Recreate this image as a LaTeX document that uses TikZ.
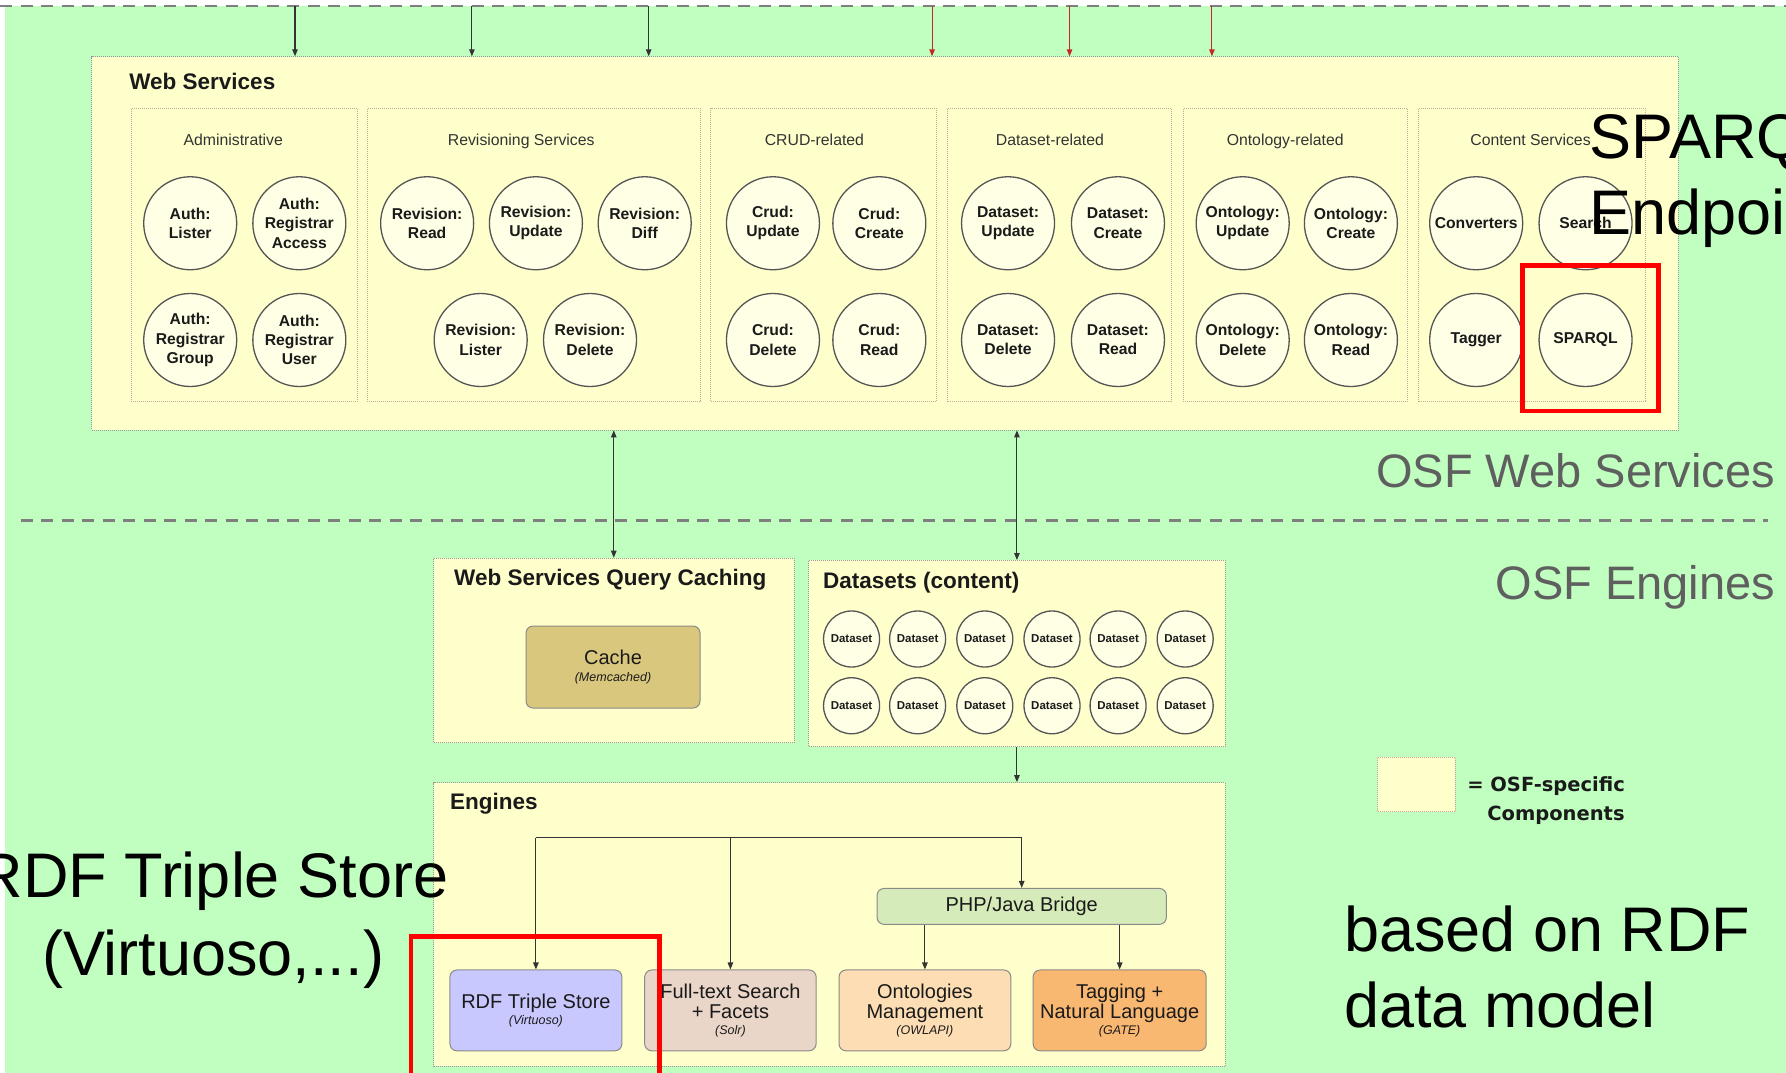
\documentclass[tikz,border=0pt]{standalone}
\usepackage{fontspec}
\setmainfont{Liberation Sans}
\newfontfamily\legendfont{DejaVu Sans}
\usetikzlibrary{arrows.meta,fit}

\definecolor{bggreen}{HTML}{C0FFC0}
\definecolor{osfyellow}{HTML}{FFFFCC}
\definecolor{circfill}{HTML}{FFFFE6}
\definecolor{circline}{HTML}{555555}
\definecolor{boxline}{HTML}{9A9A9A}
\definecolor{grpline}{HTML}{C8A898}
\definecolor{engline}{HTML}{8A8A8A}
\definecolor{txtdark}{HTML}{1A1A1A}
\definecolor{txtgrey}{HTML}{333333}
\definecolor{linedark}{HTML}{333333}
\definecolor{arrowred}{HTML}{C62828}
\definecolor{sepgrey}{HTML}{7F7F7F}
\definecolor{layergrey}{HTML}{5F5F5F}
\definecolor{cachefill}{HTML}{D9C77E}
\definecolor{bridgefill}{HTML}{D6EBBA}
\definecolor{rdffill}{HTML}{C8C8FF}
\definecolor{solrfill}{HTML}{EAD6C8}
\definecolor{owlfill}{HTML}{FDDDB3}
\definecolor{gatefill}{HTML}{F9B872}

\newcommand\subfont{\fontsize{12.5}{14}\selectfont\itshape}

\begin{document}
\begin{tikzpicture}[x=1.139pt,y=-1.139pt,
  osfbox/.style={fill=osfyellow, draw=boxline, dash pattern=on 1pt off 1pt, line width=0.8pt, inner sep=0pt},
  grpbox/.style={fill=osfyellow, draw=grpline, dash pattern=on 1pt off 1pt, line width=0.8pt, inner sep=0pt},
  svc/.style={circle, draw=circline, fill=circfill, line width=1.3pt, minimum size=93pt, inner sep=0pt,
    align=center, text=txtdark, font=\bfseries\fontsize{15.7}{19.3}\selectfont},
  dset/.style={svc, minimum size=56pt, font=\bfseries\fontsize{11.5}{13}\selectfont},
  grptitle/.style={anchor=base, inner sep=0pt, text=txtgrey, font=\fontsize{15.8}{18}\selectfont},
  boxtitle/.style={anchor=base west, inner sep=0pt, text=txtdark, font=\bfseries\fontsize{22.5}{26}\selectfont},
  engine/.style={draw=engline, rounded corners=7pt, line width=1pt, inner sep=0pt, align=center,
    text=txtdark, font=\fontsize{20}{20}\selectfont, minimum height=80.8pt},
  wire/.style={draw=linedark, line width=1.1pt},
  conn/.style={wire, -{Triangle[length=7pt,width=5.5pt]}},
  biconn/.style={wire, {Triangle[length=7pt,width=5.5pt]}-{Triangle[length=7pt,width=5.5pt]}},
  redconn/.style={conn, draw=arrowred, -{Triangle[length=7pt,width=5.5pt]}},
  sepline/.style={draw=sepgrey, line width=2.5pt, dash pattern=on 12pt off 8.5pt},
  layer/.style={anchor=base east, inner sep=0pt, text=layergrey, font=\fontsize{47}{50}\selectfont},
  note/.style={inner sep=0pt, text=black, font=\fontsize{63}{77}\selectfont},
  legendtext/.style={anchor=base west, inner sep=0pt, text=txtdark, font=\legendfont\bfseries\fontsize{19.5}{22}\selectfont},
  hilite/.style={draw=red, line width=4.5pt, inner sep=0pt}]

\useasboundingbox (0,0) rectangle (1568,942);
\fill[white] (0,0) rectangle (1568,942);
\fill[bggreen] (4,5.3) rectangle (1568,942);

% layer separators
\draw[sepline] (0,5.3) -- (1568,5.3);
\draw[sepline] (18,457) -- (1552,457);

% ---------------- Web Services layer ----------------
\node[osfbox, fit={(80.6,49.8) (1473.5,377.5)}] (ws) {};
\node[boxtitle] (wstitle) at (113.4,78.4) {Web Services};

\node[grpbox, fit={(115,95) (313.5,352.6)}] (gadmin) {};
\node[grpbox, fit={(322.6,95) (614.9,352.6)}] (grev) {};
\node[grpbox, fit={(624,95) (822,352.6)}] (gcrud) {};
\node[grpbox, fit={(832,95) (1028.7,352.6)}] (gdata) {};
\node[grpbox, fit={(1039,95) (1235.7,352.6)}] (gonto) {};
\node[grpbox, fit={(1245.4,95) (1444.7,352.6)}] (gcont) {};

\node[grptitle] (tadmin) at (204.8,127.3) {Administrative};
\node[grptitle] (trev) at (457.6,127.3) {Revisioning Services};
\node[grptitle] (tcrud) at (715,127.3) {CRUD-related};
\node[grptitle] (tdata) at (921.7,127.3) {Dataset-related};
\node[grptitle] (tonto) at (1128.3,127.3) {Ontology-related};
\node[grptitle] (tcont) at (1343.7,127.3) {Content Services};

% service endpoints
\node[svc] (alister) at (167,196) {Auth:\\Lister};
\node[svc] (aaccess) at (262.8,196) {Auth:\\Registrar\\Access};
\node[svc] (agroup) at (167,298.5) {Auth:\\Registrar\\Group};
\node[svc] (auser) at (262.8,298.5) {Auth:\\Registrar\\User};

\node[svc] (rread) at (375,196) {Revision:\\Read};
\node[svc] (rupdate) at (470.5,196) {Revision:\\Update};
\node[svc] (rdiff) at (566,196) {Revision:\\Diff};
\node[svc] (rlister) at (422,298.5) {Revision:\\Lister};
\node[svc] (rdelete) at (518,298.5) {Revision:\\Delete};

\node[svc] (cupdate) at (678.6,196) {Crud:\\Update};
\node[svc] (ccreate) at (772,196) {Crud:\\Create};
\node[svc] (cdelete) at (678.6,298.5) {Crud:\\Delete};
\node[svc] (cread) at (772,298.5) {Crud:\\Read};

\node[svc] (dupdate) at (885,196) {Dataset:\\Update};
\node[svc] (dcreate) at (981.5,196) {Dataset:\\Create};
\node[svc] (ddelete) at (885,298.5) {Dataset:\\Delete};
\node[svc] (dread) at (981.5,298.5) {Dataset:\\Read};

\node[svc] (oupdate) at (1091,196) {Ontology:\\Update};
\node[svc] (ocreate) at (1186,196) {Ontology:\\Create};
\node[svc] (odelete) at (1091,298.5) {Ontology:\\Delete};
\node[svc] (oread) at (1186,298.5) {Ontology:\\Read};

\node[svc] (conv) at (1296,196) {Converters};
\node[svc] (search) at (1392,196) {Search};
\node[svc] (tagger) at (1296,298.5) {Tagger};
\node[svc] (sparql) at (1392,298.5) {SPARQL};

% incoming requests
\coordinate (in1) at (259,5.3);
\coordinate (in2) at (414.3,5.3);
\coordinate (in3) at (569.5,5.3);
\coordinate (in4) at (818.3,5.3);
\coordinate (in5) at (939,5.3);
\coordinate (in6) at (1064,5.3);
\draw[conn] (in1) -- (in1 |- ws.north);
\draw[conn] (in2) -- (in2 |- ws.north);
\draw[conn] (in3) -- (in3 |- ws.north);
\draw[redconn] (in4) -- (in4 |- ws.north);
\draw[redconn] (in5) -- (in5 |- ws.north);
\draw[redconn] (in6) -- (in6 |- ws.north);

% ---------------- Engines layer ----------------
\node[osfbox, fit={(380.7,490) (697,652)}] (wsqc) {};
\node[boxtitle] (wsqctitle) at (398.6,513.6) {Web Services Query Caching};
\node[engine, fill=cachefill, minimum width=174pt, minimum height=82pt] (cache) at (538.2,585.6)
  {Cache\\[-3.3pt]{\subfont (Memcached)}};

\node[osfbox, fit={(710,492) (1075.6,655.5)}] (dsets) {};
\node[boxtitle] (dsetstitle) at (722.4,516.5) {Datasets (content)};
\foreach \x [count=\i] in {747.6,805.6,864.6,923.6,981.6,1040.5} {
  \node[dset] (dsa\i) at (\x,561) {Dataset};
  \node[dset] (dsb\i) at (\x,619.6) {Dataset};
}

\node[osfbox, fit={(380.7,687) (1075.6,936)}] (eng) {};
\node[boxtitle] (engtitle) at (395,711) {Engines};

\node[engine, fill=bridgefill, minimum width=289.3pt, minimum height=35.9pt] (bridge) at (897,795.75) {PHP/Java Bridge};
\node[engine, fill=rdffill, minimum width=172pt] (rdf) at (470.5,887.05)
  {RDF Triple Store\\[-4pt]{\subfont (Virtuoso)}};
\node[engine, fill=solrfill, minimum width=171.4pt] (solr) at (641.25,887.05)
  {Full-text Search\\+ Facets\\[-4pt]{\subfont (Solr)}};
\node[engine, fill=owlfill, minimum width=171.8pt] (owl) at (812,887.05)
  {Ontologies\\Management\\[-4pt]{\subfont (OWLAPI)}};
\node[engine, fill=gatefill, minimum width=173.1pt] (gate) at (983,887.05)
  {Tagging +\\Natural Language\\[-4pt]{\subfont (GATE)}};

% layer links
\draw[biconn] (ws.south -| wsqc.north) -- (wsqc.north);
\draw[biconn] (ws.south -| dsets.north) -- (dsets.north);
\draw[conn] (dsets.south) -- (eng.north -| dsets.south);

% engine distribution bus
\coordinate (bus) at (470.5,735.5);
\draw[wire] (rdf.north |- bus) -- (bridge.north |- bus);
\draw[conn] (rdf.north |- bus) -- (rdf.north);
\draw[conn] (solr.north |- bus) -- (solr.north);
\draw[conn] (bridge.north |- bus) -- (bridge.north);
\draw[conn] (bridge.south -| owl.north) -- (owl.north);
\draw[conn] (bridge.south -| gate.north) -- (gate.north);

% layer names
\node[layer] (lws) at (1558.5,428) {OSF Web Services};
\node[layer] (leng) at (1558.5,526) {OSF Engines};

% legend
\node[grpbox, fit={(1209.4,665) (1277.5,712.6)}] (legbox) {};
\node[legendtext] (leg1) at (1288,695) {= OSF-specific};
\node[legendtext] (leg2) at (1305.6,720) {Components};

% callouts
\node[note, anchor=base west] (sp1) at (1395.5,139) {SPARQL};
\node[note, anchor=base west] (sp2) at (1395.5,206) {Endpoint};
\node[note, anchor=base] (rt1) at (187,788) {RDF Triple Store};
\node[note, anchor=base] (rt2) at (187,856) {(Virtuoso,...)};
\node[note, anchor=base west] (bd1) at (1180,835) {based on RDF};
\node[note, anchor=base west] (bd2) at (1180,902) {data model};

\node[hilite, fit={(1336.7,233) (1456.2,361)}] (hlsparql) {};
\node[hilite, fit={(361,822) (579,975)}] (hlrdf) {};
\end{tikzpicture}
\end{document}
